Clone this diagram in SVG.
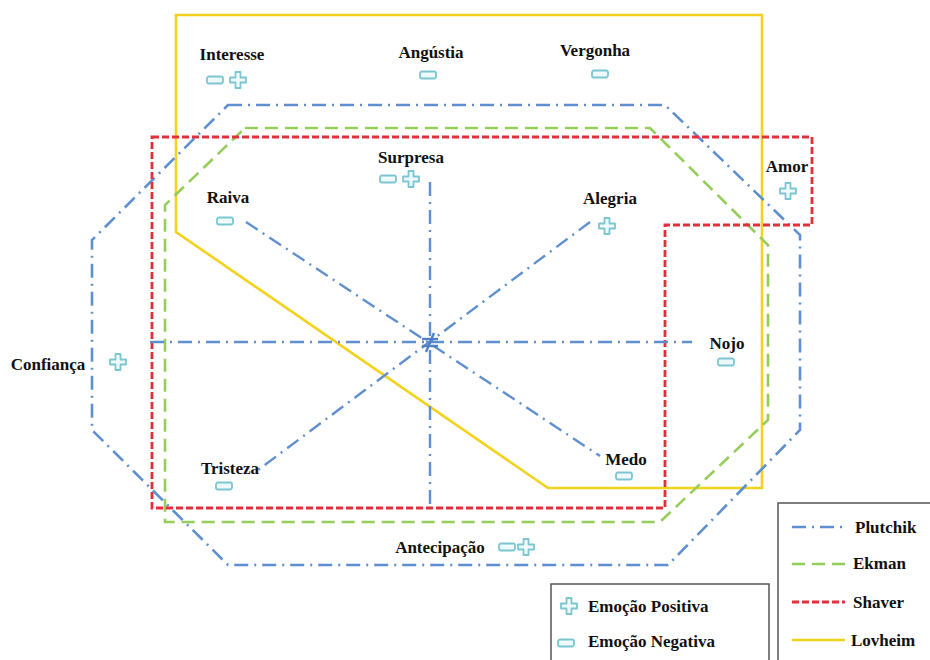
<svg xmlns="http://www.w3.org/2000/svg" width="930" height="660" viewBox="0 0 930 660">
<style>
text{font-family:"Liberation Serif","Times New Roman",serif;font-weight:bold;font-size:17px;fill:#111}
.lbl{text-anchor:middle}
.pl{fill:none;stroke:#5f8fcf;stroke-width:2.6;stroke-dasharray:14 6 2 6}
.ek{fill:none;stroke:#94cd5a;stroke-width:2.6;stroke-dasharray:13 7}
.sh{fill:none;stroke:#e0303a;stroke-width:2.8;stroke-dasharray:7 3}
.lv{fill:none;stroke:#f3d21e;stroke-width:2.6}
.ax{fill:none;stroke:#5f8fcf;stroke-width:2.4;stroke-dasharray:14 6 2 6}
.ic{fill:#eef9fb;stroke:#7cc6d2;stroke-width:1.8}
.box{fill:#fff;stroke:#555;stroke-width:1.5}
</style>
<defs>
<rect id="minus" x="-8" y="-3.5" width="16" height="7" rx="2" class="ic"/>
<path id="plus" d="M-2.5,-8 H2.5 V-2.5 H8 V2.5 H2.5 V8 H-2.5 V2.5 H-8 V-2.5 H-2.5 Z" class="ic" stroke-linejoin="round"/>
</defs>
<rect width="930" height="660" fill="#fff"/>
<g id="connectors">
<polygon id="lovheim" class="lv" points="176,15 762,15 762,488 548,488 176,232"/>
<polygon id="plutchik" class="pl" points="228,105 665,105 800,235 800,430 668,565 228,565 92,430 92,240"/>
<polygon id="ekman" class="ek" points="245,128 650,128 768,245 768,420 660,522 165,522 165,205"/>
<polygon id="shaver" class="sh" points="152,137 812,137 812,225 665,225 665,508 152,508"/>
<line class="ax" x1="430" y1="182" x2="430" y2="510"/>
<line class="ax" x1="150" y1="342" x2="692" y2="342"/>
<line class="ax" x1="246" y1="222" x2="600" y2="456"/>
<line class="ax" x1="590" y1="222" x2="258" y2="470"/>
<g stroke="#4f7fc4" stroke-width="2.4" fill="none">
<line x1="422" y1="339" x2="438" y2="339"/>
<line x1="422" y1="346" x2="438" y2="346"/>
<line x1="434" y1="333" x2="426" y2="352"/>
</g>
</g>
<g id="interesse"><text class="lbl" x="232" y="60">Interesse</text><use href="#minus" x="215" y="80"/><use href="#plus" x="238" y="80"/></g>
<g id="angustia"><text class="lbl" x="431" y="58">Angústia</text><use href="#minus" x="428" y="75"/></g>
<g id="vergonha"><text class="lbl" x="595" y="56">Vergonha</text><use href="#minus" x="600" y="74"/></g>
<g id="surpresa"><text class="lbl" x="411" y="163">Surpresa</text><use href="#minus" x="388" y="179"/><use href="#plus" x="411" y="179"/></g>
<g id="raiva"><text class="lbl" x="228" y="203">Raiva</text><use href="#minus" x="225" y="221"/></g>
<g id="alegria"><text class="lbl" x="610" y="204">Alegria</text><use href="#plus" x="607" y="226"/></g>
<g id="amor"><text class="lbl" x="787" y="172">Amor</text><use href="#plus" x="788" y="191"/></g>
<g id="confianca"><text class="lbl" x="48" y="370">Confiança</text><use href="#plus" x="118" y="362"/></g>
<g id="nojo"><text class="lbl" x="727" y="349">Nojo</text><use href="#minus" x="726" y="362"/></g>
<g id="tristeza"><text class="lbl" x="230" y="474">Tristeza</text><use href="#minus" x="224" y="486"/></g>
<g id="medo"><text class="lbl" x="626" y="465">Medo</text><use href="#minus" x="624" y="476"/></g>
<g id="antecipacao"><text class="lbl" x="440" y="553">Antecipação</text><use href="#minus" x="507" y="547"/><use href="#plus" x="526" y="547"/></g>
<g id="legend-icons">
<rect class="box" x="551" y="584" width="218" height="90"/>
<use href="#plus" x="569" y="606"/><text x="588" y="612">Emoção Positiva</text>
<use href="#minus" x="566" y="643"/><text x="588" y="647">Emoção Negativa</text>
</g>
<g id="legend-lines">
<rect class="box" x="778" y="503" width="170" height="170"/>
<line class="pl" x1="792" y1="527" x2="845" y2="527"/><text x="855" y="533">Plutchik</text>
<line class="ek" x1="792" y1="564" x2="845" y2="564" stroke-dasharray="16 6"/><text x="853" y="569">Ekman</text>
<line class="sh" x1="792" y1="602" x2="845" y2="602"/><text x="853" y="608">Shaver</text>
<line class="lv" x1="792" y1="640" x2="845" y2="640"/><text x="851" y="646">Lovheim</text>
</g>
</svg>
